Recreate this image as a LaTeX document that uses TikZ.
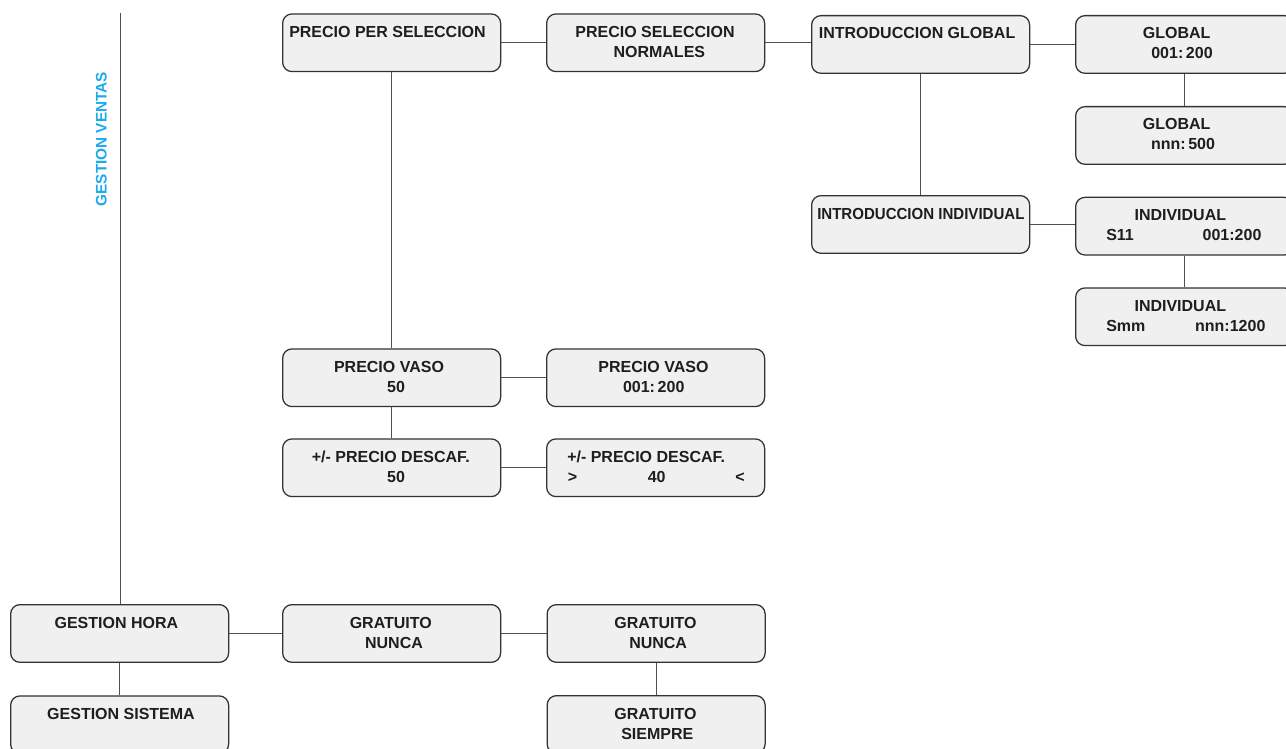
\documentclass[tikz,border=0pt]{standalone}
\usepackage{fontspec}
\setmainfont{Liberation Sans}
\definecolor{boxfill}{HTML}{F0F0F0}
\definecolor{boxline}{HTML}{333333}
\definecolor{linkc}{HTML}{505050}
\definecolor{txt}{HTML}{1E1E1E}
\definecolor{menublue}{HTML}{1DAAED}
\begin{document}
\begin{tikzpicture}[x=0.75pt,y=-0.75pt,
  box/.style={draw=boxline, fill=boxfill, rounded corners=7pt, line width=0.95pt,
    minimum width=163.5pt, minimum height=43.25pt, inner sep=0pt, anchor=north west},
  lbl/.style={font=\fontsize{12}{14.4}\selectfont\bfseries, text=txt, inner sep=0pt, anchor=base},
  lblw/.style={lbl, anchor=base west},
  lble/.style={lbl, anchor=base east},
  link/.style={draw=linkc, line width=0.9pt}]
\useasboundingbox (0,0) rectangle (1286,749);
\clip (0,0) rectangle (1286,749);

% menu boxes
\node[box] (ps)   at (282,13.3)  {};
\node[box] (psn)  at (546,13.3)  {};
\node[box] (ig)   at (811,15)    {};
\node[box] (g1)   at (1075,15)   {};
\node[box] (g2)   at (1075,106)  {};
\node[box] (ii)   at (811,195)   {};
\node[box] (i1)   at (1075,196.7){};
\node[box] (i2)   at (1075,287.3){};
\node[box] (pv)   at (282,348.3) {};
\node[box] (pv2)  at (546,348.3) {};
\node[box] (pd)   at (282,438.3) {};
\node[box] (pd2)  at (546,438.3) {};
\node[box] (gh)   at (10,604)    {};
\node[box] (gn)   at (282,604)   {};
\node[box] (gn2)  at (546.5,604) {};
\node[box] (gs)   at (546.5,695) {};
\node[box] (gsys) at (10,695.3)  {};

% box texts: first baseline 18pt below the top edge, second 33pt
\node[lblw] (ps-a) at ([xshift=5.25pt,yshift=-18pt]ps.north west) {PRECIO PER SELECCION};

\node[lbl] (psn-a) at ([xshift=81.75pt,yshift=-18pt]psn.north west) {PRECIO SELECCION};
\node[lbl] (psn-b) at ([xshift=85pt,yshift=-33pt]psn.north west) {NORMALES};

\node[lblw] (ig-a) at ([xshift=5.7pt,yshift=-18pt]ig.north west) {INTRODUCCION GLOBAL};

\node[lbl] (g1-a) at ([xshift=76.3pt,yshift=-18pt]g1.north west) {GLOBAL};
\node[lbl] (g1-b) at ([xshift=80.25pt,yshift=-33pt]g1.north west) {001:\,200};

\node[lbl] (g2-a) at ([xshift=76.3pt,yshift=-18pt]g2.north west) {GLOBAL};
\node[lbl] (g2-b) at ([xshift=81pt,yshift=-33pt]g2.north west) {nnn:\,500};

% the long title is set slightly condensed so it stays inside its box
\node[lblw, xscale=0.94] (ii-a) at ([xshift=4.5pt,yshift=-18pt]ii.north west) {INTRODUCCION INDIVIDUAL};

\node[lbl]  (i1-a) at ([xshift=79pt,yshift=-18pt]i1.north west) {INDIVIDUAL};
\node[lblw] (i1-b) at ([xshift=23.25pt,yshift=-33pt]i1.north west) {S11};
\node[lble] (i1-c) at ([xshift=140pt,yshift=-33pt]i1.north west) {001:200};

\node[lbl]  (i2-a) at ([xshift=79pt,yshift=-18pt]i2.north west) {INDIVIDUAL};
\node[lblw] (i2-b) at ([xshift=23.25pt,yshift=-33pt]i2.north west) {Smm};
\node[lble] (i2-c) at ([xshift=143pt,yshift=-33pt]i2.north west) {nnn:1200};

\node[lbl] (pv-a) at ([xshift=80.25pt,yshift=-18pt]pv.north west) {PRECIO VASO};
\node[lbl] (pv-b) at ([xshift=85.5pt,yshift=-33pt]pv.north west) {50};

\node[lbl] (pv2-a) at ([xshift=80.6pt,yshift=-18pt]pv2.north west) {PRECIO VASO};
\node[lbl] (pv2-b) at ([xshift=80.8pt,yshift=-33pt]pv2.north west) {001:\,200};

\node[lbl] (pd-a) at ([xshift=81.6pt,yshift=-18pt]pd.north west) {+/- PRECIO DESCAF.};
\node[lbl] (pd-b) at ([xshift=85.5pt,yshift=-33pt]pd.north west) {50};

\node[lblw] (pd2-a) at ([xshift=15.75pt,yshift=-18pt]pd2.north west) {+/- PRECIO DESCAF.};
\node[lblw] (pd2-b) at ([xshift=16.25pt,yshift=-33pt]pd2.north west) {>};
\node[lbl]  (pd2-c) at ([xshift=83pt,yshift=-33pt]pd2.north west) {40};
\node[lble] (pd2-d) at ([xshift=149.25pt,yshift=-33pt]pd2.north west) {<};

\node[lbl] (gh-a) at ([xshift=79.8pt,yshift=-18pt]gh.north west) {GESTION HORA};

\node[lbl] (gn-a) at ([xshift=81.6pt,yshift=-18pt]gn.north west) {GRATUITO};
\node[lbl] (gn-b) at ([xshift=84pt,yshift=-33pt]gn.north west) {NUNCA};

\node[lbl] (gn2-a) at ([xshift=81.75pt,yshift=-18pt]gn2.north west) {GRATUITO};
\node[lbl] (gn2-b) at ([xshift=83.75pt,yshift=-33pt]gn2.north west) {NUNCA};

\node[lbl] (gs-a) at ([xshift=81.75pt,yshift=-18pt]gs.north west) {GRATUITO};
\node[lbl] (gs-b) at ([xshift=83.1pt,yshift=-33pt]gs.north west) {SIEMPRE};

\node[lbl] (gsys-a) at ([xshift=83.25pt,yshift=-18pt]gsys.north west) {GESTION SISTEMA};

% section title beside the main trunk
\node[lbl, text=menublue, font=\fontsize{11.5}{13.8}\selectfont\bfseries, rotate=90]
  (ventas) at (106.7,139.2) {GESTION VENTAS};

% connectors
\coordinate (trunk) at (120.7,13.3);
\draw[link] (trunk) -- (trunk |- gh.north);
\draw[link] (ps.east) -- (ps.east -| psn.west);
\draw[link] (psn.east) -- (psn.east -| ig.west);
\draw[link] (ig.east) -- (ig.east -| g1.west);
\draw[link] (g1.south) -- (g2.north);
\draw[link] (ig.south) -- (ig.south |- ii.north);
\draw[link] (ii.east) -- (ii.east -| i1.west);
\draw[link] (i1.south) -- (i2.north);
\draw[link] (ps.south) -- (pv.north);
\draw[link] (pv.east) -- (pv2.west);
\draw[link] (pv.south) -- (pd.north);
\draw[link] (pd.east) -- (pd2.west);
\draw[link] (gh.east) -- (gn.west);
\draw[link] (gn.east) -- (gn.east -| gn2.west);
\draw[link] (gn2.south) -- (gs.north);
\draw[link] (gh.south) -- (gsys.north);
\end{tikzpicture}
\end{document}
